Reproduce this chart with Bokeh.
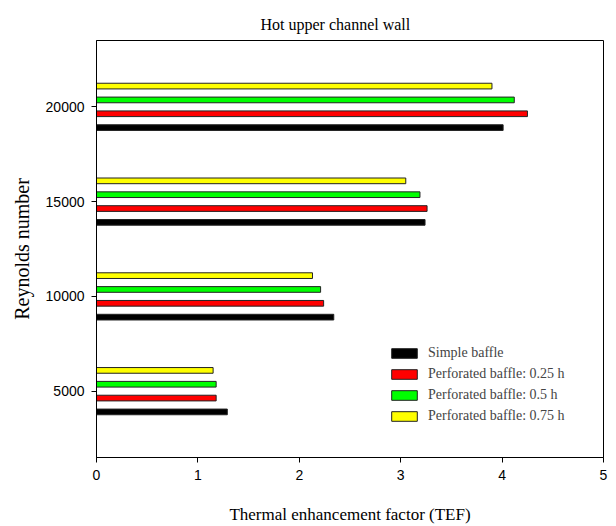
from bokeh.plotting import figure
from bokeh.models import Legend, LegendItem, Range1d, FixedTicker, Title
from bokeh.embed import file_html
from bokeh.resources import INLINE

# ---- data ----
reynolds = [5000, 10000, 15000, 20000]
series_names = ["Simple baffle", "Perforated baffle: 0.25 h",
                "Perforated baffle: 0.5 h", "Perforated baffle: 0.75 h"]
simple_baffle = [1.29, 2.34, 3.24, 4.01]
perf_025 = [1.18, 2.24, 3.26, 4.25]
perf_05 = [1.18, 2.21, 3.19, 4.12]
perf_075 = [1.15, 2.13, 3.05, 3.90]
x_ticks = [0, 1, 2, 3, 4, 5]
y_ticks = [5000, 10000, 15000, 20000]

series_values = [simple_baffle, perf_025, perf_05, perf_075]
colors = ["#000000", "#ff0000", "#00ff00", "#ffff00"]
offsets = [-1.5, -0.5, 0.5, 1.5]
pitch = 730
bar_h = 300

SERIF = "Liberation Serif"
SANS = "Liberation Sans"

p = figure(width=616, height=526, output_backend="svg", toolbar_location=None,
           x_range=Range1d(0, 5), y_range=Range1d(1500, 23500),
           min_border_left=96, min_border_right=13, min_border_top=40,
           min_border_bottom=68)

p.title = Title(text="Hot upper channel wall", align="left", offset=164,
                vertical_align="top",
                text_font=SERIF, text_font_size="16px", text_font_style="normal",
                text_color="black", standoff=12)

items = []
for name, vals, col, off in zip(series_names, series_values, colors, offsets):
    ys = [r + off * pitch for r in reynolds]
    r = p.hbar(y=ys, left=0, right=vals, height=bar_h, fill_color=col,
               line_color="#222222", line_width=1)
    items.append(LegendItem(label=name, renderers=[r]))

legend = Legend(items=items, location=(292, 31), padding=0, margin=0,
                spacing=0, glyph_width=32, glyph_height=12, label_height=21,
                label_standoff=8, label_text_font=SERIF,
                label_text_font_size="14px", border_line_color=None,
                background_fill_alpha=0)
p.add_layout(legend)

p.xgrid.visible = False
p.ygrid.visible = False
p.outline_line_color = "black"
p.outline_line_width = 1

for ax in (p.xaxis[0], p.yaxis[0]):
    ax.axis_line_color = "black"
    ax.major_tick_line_color = "black"
    ax.major_tick_out = 5
    ax.major_tick_in = 0
    ax.minor_tick_line_color = None
    ax.major_label_text_font = SANS
    ax.major_label_text_font_size = "14px"
    ax.major_label_text_color = "black"
    ax.axis_label_text_font = SERIF
    ax.axis_label_text_font_style = "normal"
    ax.axis_label_text_color = "black"

p.xaxis[0].ticker = FixedTicker(ticks=x_ticks)
p.yaxis[0].ticker = FixedTicker(ticks=y_ticks)
p.xaxis[0].axis_label = "Thermal enhancement factor (TEF)"
p.yaxis[0].axis_label = "Reynolds number"
p.xaxis[0].axis_label_text_font_size = "17px"
p.yaxis[0].axis_label_text_font_size = "20px"
p.xaxis[0].major_label_standoff = 7
p.yaxis[0].major_label_standoff = 7
p.xaxis[0].axis_label_standoff = 22
p.yaxis[0].axis_label_standoff = 10

open("out.html", "w").write(file_html(p, INLINE))
